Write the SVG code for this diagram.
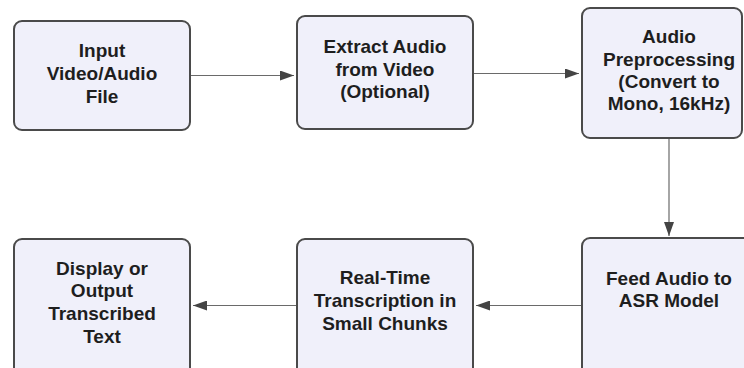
<svg xmlns="http://www.w3.org/2000/svg" width="744" height="368" viewBox="0 0 744 368">
  <style>
    .box { fill: #f0f0fa; stroke: #4a4a4a; stroke-width: 2; }
    .lbl { font-family: "Liberation Sans", Arial, sans-serif; font-weight: bold; font-size: 19px; fill: #1e1e1e; text-anchor: middle; }
    .edge { stroke: #6a6a6a; stroke-width: 1.2; fill: none; marker-end: url(#arrow); }
  </style>
  <defs>
    <marker id="arrow" viewBox="0 0 14 10" refX="14" refY="5" markerWidth="14" markerHeight="10" markerUnits="userSpaceOnUse" orient="auto">
      <path d="M0,0 L14,5 L0,10 z" fill="#444"/>
    </marker>
  </defs>
  <rect width="744" height="368" fill="#ffffff"/>

  <g id="connectors">
    <line class="edge" x1="190" y1="75.5" x2="294" y2="75.5"/>
    <line class="edge" x1="473" y1="73.5" x2="579" y2="73.5"/>
    <line class="edge" x1="669" y1="138" x2="669" y2="236"/>
    <line class="edge" x1="582" y1="305.5" x2="476" y2="305.5"/>
    <line class="edge" x1="297" y1="305.5" x2="193" y2="305.5"/>
  </g>

  <g id="input">
    <rect class="box" x="14" y="21" width="176" height="109" rx="8"/>
    <text class="lbl" x="102" y="57">Input</text>
    <text class="lbl" x="102" y="80">Video/Audio</text>
    <text class="lbl" x="102" y="103">File</text>
  </g>

  <g id="extract">
    <rect class="box" x="297" y="16" width="176" height="113" rx="8"/>
    <text class="lbl" x="385" y="53">Extract Audio</text>
    <text class="lbl" x="385" y="76">from Video</text>
    <text class="lbl" x="385" y="98">(Optional)</text>
  </g>

  <g id="preprocess">
    <rect class="box" x="582" y="8" width="160" height="130" rx="8"/>
    <text class="lbl" x="669" y="43">Audio</text>
    <text class="lbl" x="669" y="66">Preprocessing</text>
    <text class="lbl" x="669" y="88">(Convert to</text>
    <text class="lbl" x="669" y="110">Mono, 16kHz)</text>
  </g>

  <g id="asr">
    <rect class="box" x="582" y="238" width="176" height="140" rx="8"/>
    <text class="lbl" x="669" y="285">Feed Audio to</text>
    <text class="lbl" x="669" y="307">ASR Model</text>
  </g>

  <g id="transcribe">
    <rect class="box" x="297" y="239" width="176" height="139" rx="8"/>
    <text class="lbl" x="385" y="284">Real-Time</text>
    <text class="lbl" x="385" y="307">Transcription in</text>
    <text class="lbl" x="385" y="330">Small Chunks</text>
  </g>

  <g id="output">
    <rect class="box" x="14" y="239" width="176" height="139" rx="8"/>
    <text class="lbl" x="102" y="275">Display or</text>
    <text class="lbl" x="102" y="297">Output</text>
    <text class="lbl" x="102" y="320">Transcribed</text>
    <text class="lbl" x="102" y="343">Text</text>
  </g>
</svg>
